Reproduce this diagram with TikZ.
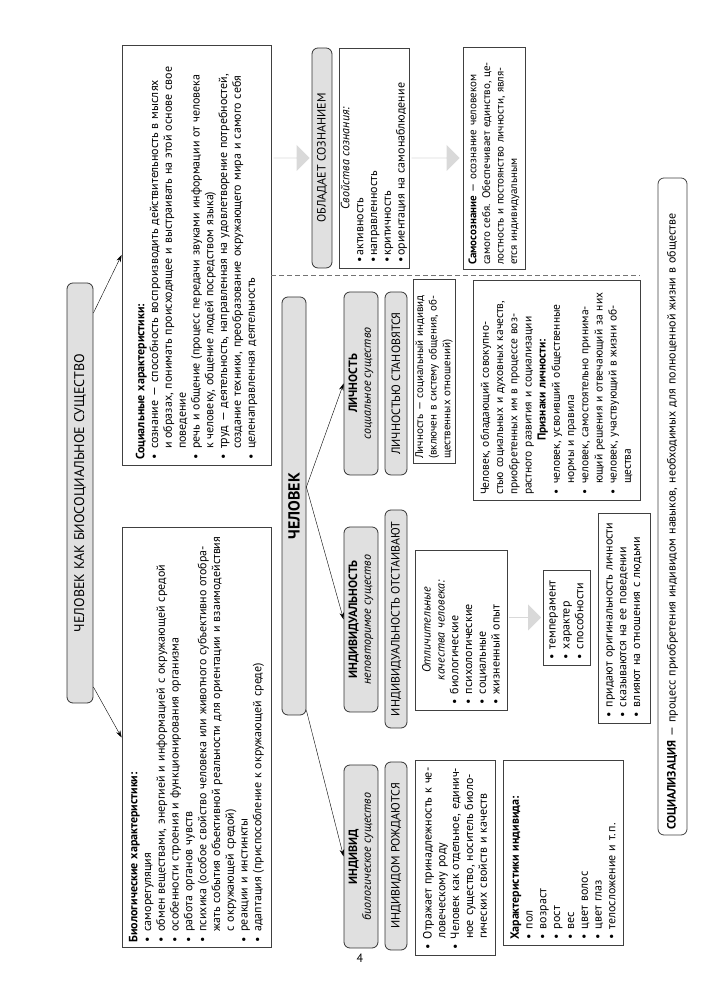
\documentclass[tikz,border=0pt]{standalone}
\usepackage{fontspec}
\setmainfont{PT Sans}
\usetikzlibrary{arrows.meta,shapes.arrows}
\newcommand{\itm}{\makebox[11pt][l]{\textbullet}}
\newcommand{\cnt}{\hspace*{11pt}}
\newcommand{\ctr}[1]{\hfill#1\hfill\null}
\begin{document}
\begin{tikzpicture}[x=1pt,y=1pt,>={Stealth[length=7pt,width=4.5pt]},
  every node/.style={font=\fontsize{12}{13.8}\selectfont},
  gbox/.style={draw=black!80,line width=.8pt,fill=black!12,rounded corners=6pt,align=center,inner sep=1pt},
  wbox/.style={draw=black!75,line width=.8pt,fill=white,align=left,inner xsep=5pt,inner ysep=2pt},
  small/.style={font=\fontsize{11}{13.6}\selectfont,inner xsep=4pt},
  garrow/.style={single arrow,draw=none,fill=black!15,rotate=-90,minimum width=26,single arrow head extend=6,inner sep=0pt},
  sep/.style={draw=black!55,line width=.7pt,dash pattern=on 5pt off 3pt}]
\useasboundingbox (0,0) rectangle (719,1000);
\begin{scope}[rotate=90,transform shape]
\node[gbox,minimum width=420,minimum height=26,font=\fontsize{14}{16}\selectfont] (title) at (507,-80) {ЧЕЛОВЕК КАК БИОСОЦИАЛЬНОЕ СУЩЕСТВО};
\node[wbox,text width=410,minimum height=149] (soc) at (745,-196.5) {\textbf{Социальные характеристики:}\\
\itm сознание — способность воспроизводить действительность в мыслях\\
\cnt и образах, понимать происходящее и выстраивать на этой основе свое\\
\cnt поведение\\
\itm речь и общение (процесс передачи звуками информации от человека\\
\cnt к человеку, общение людей посредством языка)\\
\itm труд — деятельность, направленная на удовлетворение потребностей,\\
\cnt создание техники, преобразование окружающего мира и самого себя\\
\itm целенаправленная деятельность};
\node[wbox,text width=410,minimum height=149] (bio) at (262.5,-196.5) {\textbf{Биологические характеристики:}\\
\itm саморегуляция\\
\itm обмен веществами, энергией и информацией с окружающей средой\\
\itm особенности строения и функционирования организма\\
\itm работа органов чувств\\
\itm психика (особое свойство человека или животного субъективно отобра-\\
\cnt жать события объективной реальности для ориентации и взаимодействия\\
\cnt с окружающей средой)\\
\itm реакции и инстинкты\\
\itm адаптация (приспособление к окружающей среде)};
\node[gbox,minimum width=418,minimum height=24,font=\fontsize{16}{18}\bfseries] (chel) at (494,-294) {ЧЕЛОВЕК};
\node[gbox,minimum width=220,minimum height=20] (obl) at (842,-322) {ОБЛАДАЕТ СОЗНАНИЕМ};
\node[wbox,text width=210,minimum height=68] (svo) at (842,-374) {\ctr{\textit{Свойства сознания:}}\\
\textbullet\,активность\\
\textbullet\,направленность\\
\textbullet\,критичность\\
\textbullet\,ориентация на самонаблюдение};
\node[wbox,small,text width=214,minimum height=62] (samo) at (842,-494) {\textbf{Самосознание} — осознание человеком\\
самого себя. Обеспечивает единство, це-\\
лостность и постоянство личности, явля-\\
ется индивидуальным};
\node[gbox,minimum width=183,minimum height=34] (lich) at (616.5,-361) {\textbf{ЛИЧНОСТЬ}\\\textit{социальное существо}};
\node[gbox,minimum width=183,minimum height=22] (stan) at (616.5,-396) {ЛИЧНОСТЬЮ СТАНОВЯТСЯ};
\node[wbox,small,text width=176,minimum height=42] (lsi) at (629,-434) {Личность — социальный индивид\\
(включен в систему общения, об-\\
щественных отношений)};
\node[wbox,text width=210,minimum height=167,font=\fontsize{11.5}{14.2}\selectfont] (lpr) at (610,-556.5) {Человек, обладающий совокупно-\\
стью социальных и духовных качеств,\\
приобретенных им в процессе воз-\\
растного развития и социализации\\
\ctr{\textbf{Признаки личности:}}\\
\itm человек, усвоивший общественные\\
\cnt нормы и правила\\
\itm человек, самостоятельно принима-\\
\cnt ющий решения и отвечающий за них\\
\itm человек, участвующий в жизни об-\\
\cnt щества};
\node[gbox,minimum width=185,minimum height=34] (indv) at (380.5,-361) {\textbf{ИНДИВИДУАЛЬНОСТЬ}\\\textit{неповторимое существо}};
\node[gbox,minimum width=218,minimum height=22] (otst) at (381,-396) {ИНДИВИДУАЛЬНОСТЬ ОТСТАИВАЮТ};
\node[wbox,text width=150,minimum height=92] (otl) at (370,-461) {\ctr{\textit{Отличительные}}\\
\ctr{\textit{качества человека:}}\\
\itm биологические\\
\itm психологические\\
\itm социальные\\
\itm жизненный опыт};
\node[wbox,text width=85,minimum height=47] (temp) at (382.5,-566.5) {\itm темперамент\\
\itm характер\\
\itm способности};
\node[wbox,text width=200,minimum height=52] (prid) at (382,-624) {\itm придают оригинальность личности\\
\itm сказываются на ее поведении\\
\itm влияют на отношения с людьми};
\node[gbox,minimum width=183,minimum height=34] (ind) at (143.5,-361) {\textbf{ИНДИВИД}\\\textit{биологическое существо}};
\node[gbox,minimum width=188,minimum height=22] (rozh) at (144,-396) {ИНДИВИДОМ РОЖДАЮТСЯ};
\node[wbox,text width=185,minimum height=80] (otr) at (142.5,-455) {\itm Отражает принадлежность к че-\\
\cnt ловеческому роду\\
\itm Человек как отдельное, единич-\\
\cnt ное существо, носитель биоло-\\
\cnt гических свойств и качеств};
\node[wbox,text width=175,minimum height=120] (har) at (147.5,-563) {\textbf{Характеристики индивида:}\\
\itm пол\\
\itm возраст\\
\itm рост\\
\itm вес\\
\itm цвет волос\\
\itm цвет глаз\\
\itm телосложение и т.\,п.};
\node[wbox,rounded corners=6pt,text width=647,minimum height=29] (socz) at (493.5,-672.5) {\textbf{СОЦИАЛИЗАЦИЯ} — процесс приобретения индивидом навыков, необходимых для полноценной жизни в обществе};
\draw[->] (title.south) ++(180,0) -- (soc.north);
\draw[->] (title.south) ++(-194,0) -- (bio.north);
\draw[->] (chel.south) ++(19,0) -- (lich.north);
\draw[->] (chel.south) ++(19,0) -- (indv.north);
\draw[->] (chel.south west) ++(5,0) -- (ind.north);
\node[garrow,minimum height=36] (ga) at (842,-291.5) {};
\node[garrow,minimum height=48] (gb) at (842,-435.5) {};
\node[garrow,minimum height=32] (gc) at (382.5,-525) {};
\draw[sep] (725,-271) -- (725,-640);
\end{scope}
\node (pg) at (360,42) {4};
\end{tikzpicture}
\end{document}
